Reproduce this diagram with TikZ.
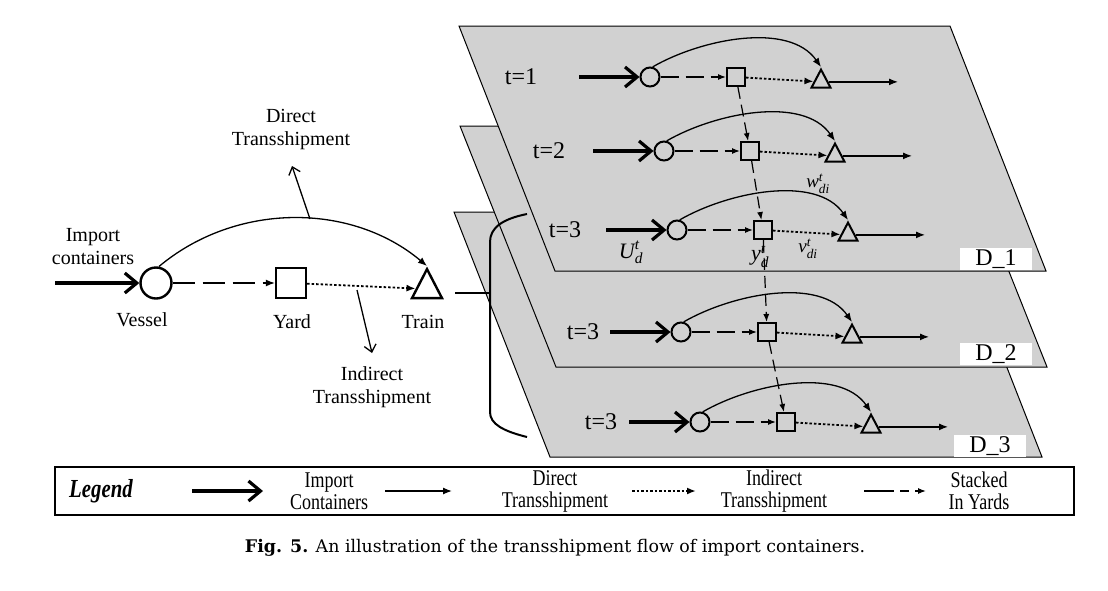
\documentclass[tikz,border=0pt]{standalone}
\usepackage{amsmath}
\usepackage{fontspec}
\setmainfont{Liberation Serif}
\newfontfamily\legfont[FakeStretch=0.8]{Liberation Serif}
\newfontfamily\capfont{DejaVu Serif}
\usetikzlibrary{arrows.meta}
\usetikzlibrary{shapes.geometric}
\definecolor{planegray}{RGB}{209,209,209}

\tikzset{
    lbl/.style={font=\fontsize{20}{23}\selectfont, align=center, inner sep=0pt},
    tlbl/.style={font=\fontsize{24}{24}\selectfont, inner sep=0pt},
    leglbl/.style={font=\legfont\fontsize{22.5}{22}\selectfont, align=center, inner sep=0pt},
    varlbl/.style={font=\fontsize{22}{22}\selectfont, inner sep=0pt},
    dbox/.style={fill=white, minimum width=72pt, minimum height=22pt, inner sep=0pt, font=\fontsize{24}{24}\selectfont},
    plane/.style={fill=planegray, draw=black, line width=1pt},
    vesbig/.style={circle, draw, line width=2.4pt, minimum size=31pt, inner sep=0pt},
    yardbig/.style={rectangle, draw, line width=2.4pt, minimum size=30pt, inner sep=0pt},
    trainbig/.style={isosceles triangle, isosceles triangle stretches, shape border rotate=90, draw, line width=2.4pt, minimum width=30pt, minimum height=29pt, inner sep=0pt},
    ves/.style={circle, draw, line width=2pt, minimum size=19pt, inner sep=0pt},
    yrd/.style={rectangle, draw, line width=2pt, minimum size=18pt, inner sep=0pt},
    trn/.style={isosceles triangle, isosceles triangle stretches, shape border rotate=90, draw, line width=2pt, minimum width=19pt, minimum height=18pt, inner sep=0pt},
    import/.style={line width=3.2pt, -{Straight Barb[length=12pt, width=20pt]}},
    direct/.style={line width=1.3pt, -{Latex[length=9pt, width=7pt]}},
    indirect/.style={line width=1.8pt, dash pattern=on 2.5pt off 2pt, -{Latex[length=9pt, width=7pt]}},
    stackbig/.style={line width=1.2pt, dash pattern=on 22pt off 8pt, -{Latex[length=9pt, width=7pt]}},
    stack/.style={line width=1.2pt, dash pattern=on 18pt off 7pt, -{Latex[length=8pt, width=6pt]}},
    stackv/.style={line width=1.2pt, dash pattern=on 12pt off 6pt, -{Latex[length=8pt, width=6pt]}},
    legstack/.style={line width=1.2pt, dash pattern=on 30pt off 6pt on 9pt off 6pt, -{Latex[length=8pt, width=6pt]}},
    pointer/.style={line width=1.3pt, -{Straight Barb[length=7pt, width=12pt]}}
}

\newcommand{\flowvar}[3]{$\textit{#1}^{\textit{#2}}_{\textit{#3}}$}

\newcommand{\flowrow}[5]{
    \node[tlbl] (t#1) at (#2,#4) {#5};
    \node[ves] (V#1) at (#3,#4) {};
    \node[yrd] (Y#1) at (#3+86,#4) {};
    \node[trn, anchor=apex] (T#1) at (#3+171,#4-10) {};
    \coordinate (i#1) at (#3-71,#4);
    \coordinate (o#1) at (T#1.center -| #3+248,0);
    \draw[import] (i#1) -- (V#1);
    \draw[stack] (V#1) -- (Y#1);
    \draw[indirect] (Y#1) -- (T#1);
    \draw[direct] (T#1) -- (o#1);
    \draw[direct] (V#1.75) to[out=30, in=125, looseness=0.85] (T#1.apex);
}

\begin{document}
\begin{tikzpicture}[x=1pt, y=-1pt]
    \useasboundingbox (0,0) rectangle (1108,590);

    \node[vesbig] (V) at (156,283) {};
    \node[yardbig] (Y) at (291,283) {};
    \node[trainbig, anchor=apex] (T) at (427,266) {};
    \coordinate (imp) at (55,283);
    \draw[import] (imp) -- (V);
    \draw[stackbig] (V) -- (Y);
    \draw[indirect] (Y) -- (T);
    \draw[direct] (V.80) to[out=40, in=140, looseness=0.95] (T.apex);

    \node[lbl] (impl) at (93,247) {Import\\containers};
    \node[lbl] (vesl) at (142,320) {Vessel};
    \node[lbl] (yardl) at (292,322) {Yard};
    \node[lbl] (trainl) at (423,322) {Train};
    \node[lbl] (dirl) at (291,130) {Direct\\Transshipment};
    \node[lbl] (indl) at (372,387) {Indirect\\Transshipment};
    \coordinate (dtail) at (310,219);
    \coordinate (dhead) at (292,166);
    \draw[pointer] (dtail) -- (dhead);
    \coordinate (itail) at (357,290);
    \coordinate (ihead) at (372,353);
    \draw[pointer] (itail) -- (ihead);

    \filldraw[plane] (454,212) -- (946,212) -- (1042,457) -- (550,457) -- cycle;
    \flowrow{5}{601}{700}{422}{t=3}
    \node[dbox] (d3) at (990,446) {D\_3};

    \filldraw[plane] (460,126) -- (951,126) -- (1047,367) -- (556,367) -- cycle;
    \flowrow{4}{583}{681}{332}{t=3}
    \node[dbox] (d2) at (996,354) {D\_2};

    \filldraw[plane] (459,26) -- (950,26) -- (1046,271) -- (555,271) -- cycle;
    \flowrow{1}{521}{650}{77}{t=1}
    \flowrow{2}{549}{664}{151}{t=2}
    \flowrow{3}{565}{677}{230}{t=3}
    \node[dbox] (d1) at (996,259) {D\_1};

    \node[varlbl] (U) at (631,252) {\flowvar{U}{t}{d}};
    \node[varlbl] (y) at (760,256) {\flowvar{y}{t}{d}};
    \node[varlbl, font=\fontsize{19}{19}\selectfont] (v) at (808,249) {\flowvar{v}{t}{di}};
    \node[varlbl, font=\fontsize{19}{19}\selectfont] (w) at (818,184) {\flowvar{w}{t}{di}};

    \draw[stackv] (Y1) -- (Y2);
    \draw[stackv] (Y2) -- (Y3);
    \draw[stackv] (Y3) -- (Y4);
    \draw[stackv] (Y4) -- (Y5);

    \coordinate (bmid) at (490,293);
    \coordinate (tstart) at (455,293);
    \draw[line width=1.2pt] (tstart) -- (bmid);
    \draw[line width=2pt] (527,214) .. controls (502,219) and (490,228) .. (490,242) -- (490,412) .. controls (490,424) and (503,431) .. (527,437);

    \draw[line width=1.5pt] (55,467) rectangle (1074,515);
    \node[leglbl, font=\legfont\fontsize{26}{26}\selectfont\bfseries\itshape] (legt) at (101,491) {Legend};
    \coordinate (la1) at (192,491);
    \coordinate (la2) at (263,491);
    \draw[import] (la1) -- (la2);
    \node[leglbl] (lt1) at (329,491) {Import\\Containers};
    \coordinate (lb1) at (385,491);
    \coordinate (lb2) at (452,491);
    \draw[direct] (lb1) -- (lb2);
    \node[leglbl] (lt2) at (555,491) {Direct\\Transshipment};
    \coordinate (lc1) at (632,491);
    \coordinate (lc2) at (696,491);
    \draw[indirect] (lc1) -- (lc2);
    \node[leglbl] (lt3) at (774,491) {Indirect\\Transshipment};
    \coordinate (ld1) at (864,491);
    \coordinate (ld2) at (926,491);
    \draw[legstack] (ld1) -- (ld2);
    \node[leglbl] (lt4) at (979,491) {Stacked\\In Yards};

    \node[font=\capfont\fontsize{17.4}{17.4}\selectfont, inner sep=0pt] (cap) at (555,548) {\textbf{Fig. 5.} An illustration of the transshipment flow of import containers.};
\end{tikzpicture}
\end{document}
